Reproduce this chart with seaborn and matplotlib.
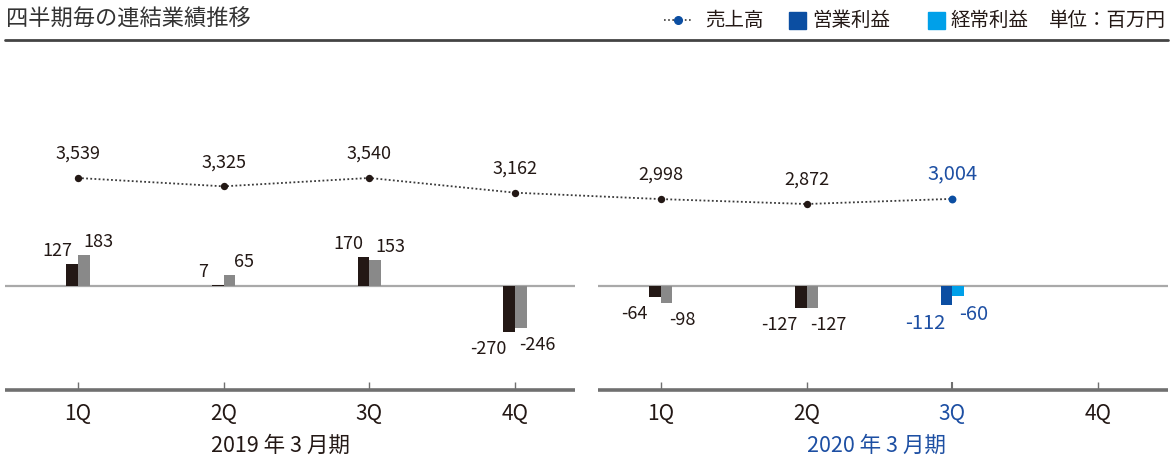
import numpy as np
import pandas as pd
import matplotlib
matplotlib.use("Agg")
import matplotlib.pyplot as plt
from matplotlib.patches import Rectangle
from matplotlib.lines import Line2D
import seaborn as sns

# ---------------- data ----------------
quarters = ["1Q", "2Q", "3Q", "4Q", "1Q", "2Q", "3Q", "4Q"]
period_keys = ["19-1Q", "19-2Q", "19-3Q", "19-4Q", "20-1Q", "20-2Q", "20-3Q", "20-4Q"]
fiscal_years = ["2019 年 3 月期", "2020 年 3 月期"]
sales = [3539, 3325, 3540, 3162, 2998, 2872, 3004]
operating_profit = [127, 7, 170, -270, -64, -127, -112]
ordinary_profit = [183, 65, 153, -246, -98, -127, -60]
legend_labels = ["売上高", "営業利益", "経常利益"]
unit_label = "単位：百万円"
title = "四半期毎の連結業績推移"

# ---------------- style ----------------
sns.set_theme(style="white")
plt.rcParams['font.family'] = ['Noto Sans CJK JP', 'DejaVu Sans']

DARK = "#231815"
GRAY = "#898989"
BLUE = "#0b4ea2"
LBLUE = "#00a0e9"
TXT = "#231815"
BTXT = "#1d4fa3"

W, H = 1173, 459
fig = plt.figure(figsize=(W / 100, H / 100), dpi=100)


def fx(px):
    return px / W


def fy(py):
    return 1 - py / H


# axes: x from px 5 to 1168, y from px 45 to 390
ax = fig.add_axes([fx(5), fy(390), fx(1168) - fx(5), fy(45) - fy(390)])

n_shown = len(sales)
df = pd.DataFrame({
    "period": period_keys[:n_shown] * 2,
    "metric": [legend_labels[1]] * n_shown + [legend_labels[2]] * n_shown,
    "value": operating_profit + ordinary_profit,
})

sns.barplot(data=df, x="period", y="value", hue="metric", order=period_keys,
            hue_order=legend_labels[1:], palette=[DARK, GRAY], width=0.16,
            dodge=True, legend=False, ax=ax, saturation=1, linewidth=0, zorder=2)

# recolour the latest quarter (blue)
latest = n_shown - 1
for p in ax.patches:
    p.set_zorder(2)
    cx = p.get_x() + p.get_width() / 2
    if abs(cx - latest) < 0.3:
        p.set_facecolor(BLUE if cx < latest else LBLUE)

XMIN, XMAX = -0.5, 7.48
YMIN, YMAX = -612, 1418
ax.set_xlim(XMIN, XMAX)
ax.set_ylim(YMIN, YMAX)

# zero lines and base lines (two panels)
gap_l, gap_r = 3.41, 3.57
for a, b in [(XMIN, gap_l), (gap_r, XMAX)]:
    ax.hlines(0, a, b, color="#a9a9a9", lw=1.6, zorder=1)
    ax.hlines(YMIN, a, b, color="#707070", lw=2.6, zorder=3, clip_on=False)

for s in ax.spines.values():
    s.set_visible(False)
ax.set_yticks([])
ax.set_xticks(range(len(quarters)))
ax.set_xticklabels(quarters, fontsize=15, color=TXT)
ax.tick_params(axis="x", direction="in", length=6, width=1, color="#707070", pad=9, bottom=True)
ax.set_xlabel("")
ax.set_ylabel("")
ticks = ax.xaxis.get_major_ticks()
ticks[latest].tick1line.set_color(BTXT)
ticks[latest].tick1line.set_markeredgewidth(1.5)
ax.get_xticklabels()[latest].set_color(BTXT)

# bar value labels
for i in range(n_shown):
    col = BTXT if i == latest else TXT
    fs = 14.5 if i == latest else 13
    for v, dx in [(operating_profit[i], -0.04), (ordinary_profit[i], 0.04)]:
        off_x = -15 if dx < 0 else 15
        if v >= 0:
            off_y, va = 4, "bottom"
        else:
            off_y, va = -8, "top"
        if v < 0:
            off_x = -21 if dx < 0 else 16
        ax.annotate(f"{v:,}", (i + dx, v), xytext=(off_x, off_y), textcoords="offset pixels",
                    ha="center", va=va, fontsize=fs, color=col)

# sales line on twin axis
ax2 = ax.twinx()
ax2.set_ylim(-1897, 6949)
ax2.set_xlim(XMIN, XMAX)
xs = np.arange(n_shown)
sns.lineplot(x=xs, y=sales, ax=ax2, color="#3a3a3a", lw=1.3, linestyle=(0, (1, 1.3)), zorder=4)
ax2.scatter(xs[:-1], sales[:-1], s=28, color=DARK, zorder=5, linewidths=0)
ax2.scatter(xs[-1:], sales[-1:], s=32, color=BLUE, zorder=5, linewidths=0)
for i, v in enumerate(sales):
    col = BTXT if i == latest else TXT
    fs = 14.5 if i == latest else 13
    ax2.annotate(f"{v:,}", (i, v), xytext=(0, 15), textcoords="offset pixels",
                 ha="center", va="bottom", fontsize=fs, color=col)
for s in ax2.spines.values():
    s.set_visible(False)
ax2.set_yticks([])
ax2.set_ylabel("")

# fiscal year labels
fig.text(fx(280), fy(446), fiscal_years[0], ha="center", va="center", fontsize=15.5, color=TXT)
fig.text(fx(876), fy(446), fiscal_years[1], ha="center", va="center", fontsize=15.5, color=BTXT)

# title and header rule
fig.text(fx(6), fy(19), title, ha="left", va="center", fontsize=16, color="#333333")
fig.add_artist(Line2D([fx(5), fx(1168)], [fy(40), fy(40)], color="#444444", lw=2))

# legend (manual)
ly = 20
fig.add_artist(Line2D([fx(664), fx(693)], [fy(ly), fy(ly)], color="#3a3a3a", lw=1.2,
                      linestyle=(0, (1, 1.5))))
fig.add_artist(Line2D([fx(678)], [fy(ly)], marker="o", markersize=5.5, color=BLUE, lw=0))
fig.text(fx(705), fy(ly), legend_labels[0], ha="left", va="center", fontsize=14, color=TXT)
fig.add_artist(Rectangle((fx(789), fy(ly + 8.5)), fx(17), 17 / H, color=BLUE, transform=fig.transFigure))
fig.text(fx(812), fy(ly), legend_labels[1], ha="left", va="center", fontsize=14, color=TXT)
fig.add_artist(Rectangle((fx(928), fy(ly + 8.5)), fx(17), 17 / H, color=LBLUE, transform=fig.transFigure))
fig.text(fx(951), fy(ly), legend_labels[2], ha="left", va="center", fontsize=14, color=TXT)
fig.text(fx(1166), fy(ly), unit_label, ha="right", va="center", fontsize=14, color=TXT)

fig.savefig("out.png", dpi=100)
